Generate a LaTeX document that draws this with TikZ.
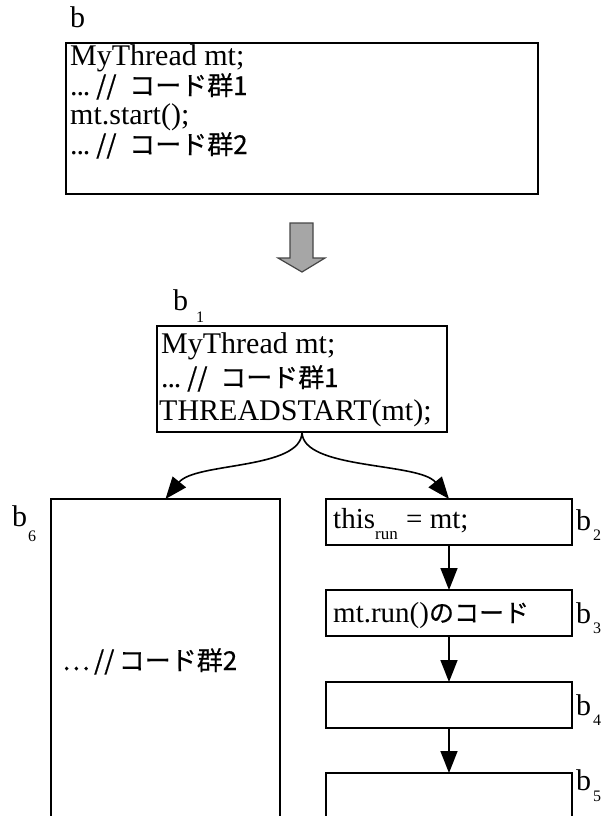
\documentclass[tikz,border=0pt]{standalone}
\usepackage{fontspec}
\usepackage{graphicx}
\setmainfont{Liberation Serif}
\newfontfamily\cjk{Noto Sans CJK JP}[FakeBold=0.5]
\usetikzlibrary{arrows.meta}

% low ellipsis: three full-size periods set close together
\newcommand{\lowdots}{\makebox[26pt][l]{.\kern-1.2pt.\kern-1.2pt.}}

\tikzset{
  codebox/.style={draw=black, line width=1.8pt, fill=white, rectangle,
    inner sep=0pt, outer sep=0pt, anchor=north west},
  codeline/.style={anchor=base west, inner sep=0pt, font=\fontsize{30}{30}\selectfont},
  rightline/.style={anchor=base west, inner sep=0pt, font=\fontsize{29}{29}\selectfont},
  blbl/.style={anchor=base west, inner sep=0pt, font=\fontsize{30}{30}\selectfont},
  bsub/.style={anchor=base west, inner sep=0pt, font=\fontsize{16}{16}\selectfont},
  flow/.style={line width=1.6pt, -{Triangle[length=22pt,width=17pt]}},
}
\definecolor{arrowfill}{RGB}{166,166,166}
\definecolor{arrowedge}{RGB}{70,70,70}

\begin{document}
\begin{tikzpicture}[x=1pt,y=-1pt]
\useasboundingbox (0,0) rectangle (606,816);
\clip (0,0) rectangle (606,816);

% ---- original block b ----
\node[blbl] (lb) at (70,28) {b};
\node[codebox, minimum width=472pt, minimum height=151pt] (top) at (66,43) {};
\node[codeline] (t1) at (70,66) {MyThread mt;};
\node[codeline] (t2) at (70,95) {\lowdots\makebox[33pt][l]{\cjk\fontsize{26}{26}\selectfont //}{\cjk\fontsize{26}{26}\selectfont コード群1}};
\node[codeline] (t3) at (70,124) {mt.start();};
\node[codeline] (t4) at (70,154) {\lowdots\makebox[33pt][l]{\cjk\fontsize{26}{26}\selectfont //}{\cjk\fontsize{26}{26}\selectfont コード群2}};

% ---- transformation arrow ----
\draw[fill=arrowfill, draw=arrowedge, line width=1.2pt, line join=miter]
  (290,223) -- (313,223) -- (313,258) -- (325,258) -- (302,272)
  -- (278,258) -- (290,258) -- cycle;

% ---- block b1 ----
\node[blbl] (lb1) at (173,310) {b};
\node[bsub] (lb1s) at (196,322) {1};
\node[codebox, minimum width=290pt, minimum height=106pt] (b1) at (157,326) {};
\node[codeline] (u1) at (161,353) {MyThread mt;};
\node[codeline] (u2) at (161,387) {\lowdots\makebox[33pt][l]{\cjk\fontsize{26}{26}\selectfont //}{\cjk\fontsize{26}{26}\selectfont コード群1}};
\node[codeline] (u3) at (159,420) {THREADSTART(mt);};

% ---- block b6 (continues past the bottom) ----
\node[blbl] (lb6) at (12,526) {b};
\node[bsub] (lb6s) at (28,541) {6};
\node[codebox, minimum width=229pt, minimum height=360pt] (b6) at (51,499) {};
\node[anchor=base west, inner sep=0pt, font=\cjk\fontsize{26}{26}\selectfont] (v1) at (62,670) {…\,//\,コード群2};

% ---- right column b2..b5 ----
\node[codebox, minimum width=246pt, minimum height=46pt] (b2) at (326,499) {};
\node[codebox, minimum width=246pt, minimum height=46pt] (b3) at (326,590) {};
\node[codebox, minimum width=246pt, minimum height=46pt] (b4) at (326,682) {};
\node[codebox, minimum width=246pt, minimum height=80pt] (b5) at (326,773) {};

\node[rightline] (w1) at (333,528) {this};
\node[anchor=base west, inner sep=0pt, font=\fontsize{17}{17}\selectfont] (w1s) at (375,539) {run};
\node[rightline] (w2) at (406,528) {= mt;};
\node[rightline] (w3) at (333,622) {mt.run(){\cjk\fontsize{25}{25}\selectfont のコード}};

\node[blbl] (lb2) at (576,530) {b};
\node[bsub] (lb2s) at (593,540) {2};
\node[blbl] (lb3) at (576,623) {b};
\node[bsub] (lb3s) at (593,633) {3};
\node[blbl] (lb4) at (576,715) {b};
\node[bsub] (lb4s) at (593,725) {4};
\node[blbl] (lb5) at (576,790) {b};
\node[bsub] (lb5s) at (593,801) {5};

% ---- connectors ----
\draw[flow] (b1.south) .. controls +(0,38) and +(30,-37) .. (b6.north);
\draw[flow] (b1.south) .. controls +(0,38) and +(-30,-37) .. (b2.north);
\draw[flow] (b2) -- (b3);
\draw[flow] (b3) -- (b4);
\draw[flow] (b4) -- (b5);
\end{tikzpicture}
\end{document}
